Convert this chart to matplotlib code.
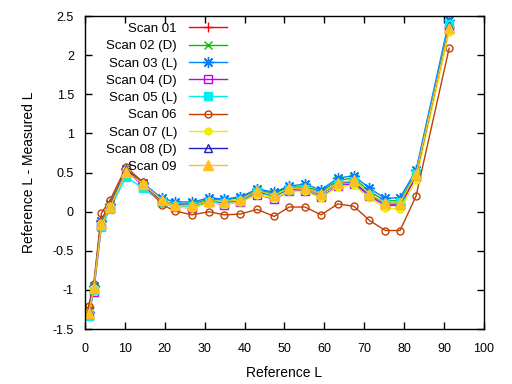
import matplotlib
matplotlib.use('Agg')
import matplotlib.pyplot as plt

plt.rcParams['font.family'] = ['Liberation Sans', 'DejaVu Sans']

# reference L positions (same for every scan)
ref_l = [0.9, 2.2, 4.1, 6.3, 10.3, 14.5, 19.3, 22.6, 26.8, 31.2, 34.9, 38.9,
         43.2, 47.4, 51.2, 55.2, 59.2, 63.4, 67.4, 71.3, 75.3, 79.0, 83.0, 91.3]

scan01 = [-1.22, -0.95, -0.10, 0.10, 0.55, 0.35, 0.12, 0.08, 0.07, 0.13, 0.12, 0.15,
          0.25, 0.20, 0.28, 0.29, 0.22, 0.36, 0.38, 0.21, 0.09, 0.08, 0.45, 2.35]
scan02 = [-1.25, -0.97, -0.12, 0.09, 0.54, 0.37, 0.14, 0.10, 0.10, 0.16, 0.15, 0.18,
          0.27, 0.24, 0.31, 0.32, 0.26, 0.40, 0.43, 0.26, 0.14, 0.14, 0.50, 2.40]
scan03 = [-1.28, -0.95, -0.12, 0.10, 0.55, 0.37, 0.17, 0.13, 0.12, 0.18, 0.16, 0.19,
          0.29, 0.25, 0.33, 0.35, 0.28, 0.43, 0.46, 0.30, 0.17, 0.18, 0.53, 2.45]
scan04 = [-1.32, -1.02, -0.18, 0.05, 0.52, 0.34, 0.12, 0.06, 0.05, 0.12, 0.09, 0.13,
          0.22, 0.16, 0.26, 0.27, 0.19, 0.33, 0.36, 0.20, 0.08, 0.08, 0.45, 2.33]
scan05 = [-1.33, -1.00, -0.20, 0.03, 0.45, 0.30, 0.12, 0.07, 0.07, 0.12, 0.11, 0.14,
          0.25, 0.19, 0.28, 0.29, 0.22, 0.36, 0.38, 0.22, 0.10, 0.12, 0.48, 2.40]
scan06 = [-1.21, -0.92, -0.02, 0.15, 0.57, 0.38, 0.09, 0.01, -0.04, 0.00, -0.04, -0.03,
          0.03, -0.06, 0.06, 0.06, -0.04, 0.10, 0.07, -0.11, -0.24, -0.24, 0.20, 2.09]
scan07 = [-1.28, -0.97, -0.14, 0.07, 0.53, 0.36, 0.13, 0.06, 0.05, 0.11, 0.10, 0.12,
          0.22, 0.17, 0.26, 0.26, 0.18, 0.32, 0.34, 0.17, 0.05, 0.03, 0.40, 2.30]
scan08 = [-1.27, -0.98, -0.15, 0.07, 0.53, 0.36, 0.14, 0.09, 0.08, 0.14, 0.12, 0.15,
          0.26, 0.21, 0.29, 0.30, 0.23, 0.37, 0.39, 0.22, 0.11, 0.10, 0.47, 2.37]
scan09 = [-1.30, -0.98, -0.16, 0.06, 0.51, 0.36, 0.15, 0.08, 0.08, 0.14, 0.13, 0.15,
          0.27, 0.21, 0.30, 0.30, 0.23, 0.37, 0.40, 0.23, 0.11, 0.11, 0.48, 2.35]

names = ['Scan 01', 'Scan 02 (D)', 'Scan 03 (L)', 'Scan 04 (D)', 'Scan 05 (L)',
         'Scan 06', 'Scan 07 (L)', 'Scan 08 (D)', 'Scan 09']
series = [scan01, scan02, scan03, scan04, scan05, scan06, scan07, scan08, scan09]

# gnuplot-ish default line colours
colors = ['#ff0000', '#00c000', '#0080ff', '#c000ff', '#00eeee',
          '#c04000', '#eeee00', '#2020c0', '#ffc020']
markers = ['+', 'x', (8, 2, 0), 's', 's', 'o', 'o', '^', '^']
filled = [True, True, True, False, True, False, True, False, True]
msizes = [7, 6, 8, 6, 6, 5, 5, 6, 7]

fig = plt.figure(figsize=(5.12, 3.84), dpi=100)
ax = fig.add_axes([0.166, 0.143, 0.779, 0.815])

for name, ys, c, m, f, ms in zip(names, series, colors, markers, filled, msizes):
    ax.plot(ref_l, ys, color=c, marker=m, markersize=ms, lw=1,
            markerfacecolor=c if f else 'none', markeredgecolor=c,
            markeredgewidth=1, label=name)

ax.set_xlim(0, 100)
ax.set_ylim(-1.5, 2.5)
ax.set_xticks(range(0, 101, 10))
ax.set_yticks([-1.5, -1, -0.5, 0, 0.5, 1, 1.5, 2, 2.5])
ax.set_yticklabels(['-1.5', '-1', '-0.5', '0', '0.5', '1', '1.5', '2', '2.5'])
ax.tick_params(direction='in', top=True, right=True, length=5, width=1,
               labelsize=9)
ax.tick_params(axis='x', pad=10)
ax.tick_params(axis='y', pad=8)
for s in ax.spines.values():
    s.set_linewidth(1)

ax.set_xlabel('Reference L', fontsize=10, labelpad=8)
ax.set_ylabel('Reference L - Measured L', fontsize=10, labelpad=12)

leg = ax.legend(loc='upper right', bbox_to_anchor=(0.363, 0.987), frameon=False,
                markerfirst=False, fontsize=9.5, handlelength=2.9,
                handletextpad=0.9, labelspacing=0.38, borderpad=0.2,
                borderaxespad=0)

fig.savefig('out.png', dpi=100)
